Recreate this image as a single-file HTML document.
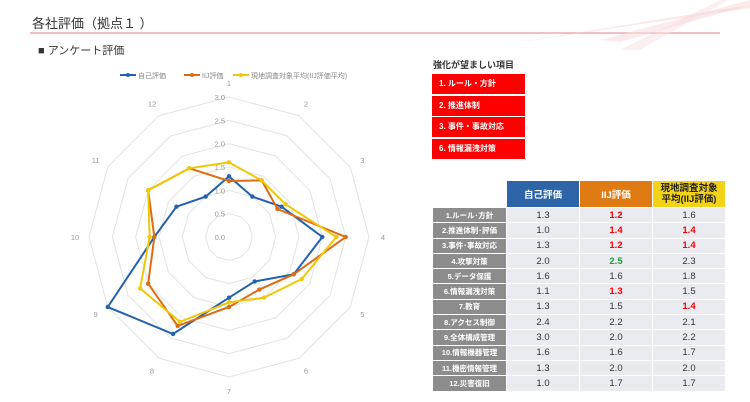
<!DOCTYPE html>
<html><head><meta charset="utf-8"><style>
body{margin:0;width:750px;height:402px;overflow:hidden;background:#fff;font-family:"Liberation Sans","Noto Sans CJK JP",sans-serif;position:relative}
.t{position:absolute;white-space:nowrap}
.rb{position:absolute;left:432px;width:93px;height:20px;background:#f00;color:#fff;font-size:8px;font-weight:bold;line-height:20px;padding-left:7px;box-sizing:border-box}
table{position:absolute;left:432px;top:180px;border-collapse:separate;border-spacing:1px;font-size:9.5px}
td{height:14.3px;text-align:center;padding:0;background:#e9ebf1;color:#333}
td.l{background:#8c8c8c;color:#fff;font-weight:bold;font-size:7.5px;width:73px}
td.v{width:72px}
th{height:26px;font-size:9.5px;font-weight:bold;padding:0}
.r{color:#f00;font-weight:bold}.g{color:#1ea03c;font-weight:bold}
</style></head><body>
<svg width="750" height="402" style="position:absolute;left:0;top:0">
<line x1="30" y1="33" x2="720" y2="33" stroke="#eeaab0" stroke-width="1.5"/>
<polygon points="600,40 750,0 750,5 620,42" fill="#f8dede" opacity=".6"/>
<polygon points="500,45 750,5 750,8" fill="#f5d0d0" opacity=".5"/>
<polygon points="620,50 720,0 728,0 640,50" fill="#f8e0e0" opacity=".5"/>
<g id="radar"></g>
</svg>
<div class="t" style="left:32px;top:13px;font-size:13px;color:#333">各社評価（拠点１ ）</div>
<div class="t" style="left:38px;top:42px;font-size:11px;color:#333">■ アンケート評価</div>
<div class="t" style="left:433px;top:58px;font-size:9px;font-weight:bold;color:#333">強化が望ましい項目</div>
<div class="rb" style="top:74px">1. ルール・方針</div>
<div class="rb" style="top:96px">2. 推進体制</div>
<div class="rb" style="top:117px">3. 事件・事故対応</div>
<div class="rb" style="top:139px">6. 情報漏洩対策</div>
<table>
<tr><th style="background:none"></th><th style="background:#2e65a8;color:#fff">自己評価</th><th style="background:#e07b14;color:#fff">IIJ評価</th><th style="background:#f2d318;color:#222;line-height:11px">現地調査対象<br>平均(IIJ評価)</th></tr>
<tr><td class="l">1.ルール･方針</td><td class="v">1.3</td><td class="v r">1.2</td><td class="v">1.6</td></tr>
<tr><td class="l">2.推進体制･評価</td><td class="v">1.0</td><td class="v r">1.4</td><td class="v r">1.4</td></tr>
<tr><td class="l">3.事件･事故対応</td><td class="v">1.3</td><td class="v r">1.2</td><td class="v r">1.4</td></tr>
<tr><td class="l">4.攻撃対策</td><td class="v">2.0</td><td class="v g">2.5</td><td class="v">2.3</td></tr>
<tr><td class="l">5.データ保護</td><td class="v">1.6</td><td class="v">1.6</td><td class="v">1.8</td></tr>
<tr><td class="l">6.情報漏洩対策</td><td class="v">1.1</td><td class="v r">1.3</td><td class="v">1.5</td></tr>
<tr><td class="l">7.教育</td><td class="v">1.3</td><td class="v">1.5</td><td class="v r">1.4</td></tr>
<tr><td class="l">8.アクセス制御</td><td class="v">2.4</td><td class="v">2.2</td><td class="v">2.1</td></tr>
<tr><td class="l">9.全体構成管理</td><td class="v">3.0</td><td class="v">2.0</td><td class="v">2.2</td></tr>
<tr><td class="l">10.情報機器管理</td><td class="v">1.6</td><td class="v">1.6</td><td class="v">1.7</td></tr>
<tr><td class="l">11.機密情報管理</td><td class="v">1.3</td><td class="v">2.0</td><td class="v">2.0</td></tr>
<tr><td class="l">12.災害復旧</td><td class="v">1.0</td><td class="v">1.7</td><td class="v">1.7</td></tr>
</table>
<script>
var cx=229,cy=237,R=140,g=document.getElementById('radar'),s='';
function P(i,v){var a=i*Math.PI/6;return[cx+Math.sin(a)*v/3*R,cy-Math.cos(a)*v/3*R];}
for(var k=1;k<=6;k++){var pts=[];for(var i=0;i<12;i++)pts.push(P(i,k*0.5).join(','));s+='<polygon points="'+pts.join(' ')+'" fill="none" stroke="#e3e3e3" stroke-width="1"/>';
s+='<text x="'+(cx-4)+'" y="'+(cy-k*0.5/3*R+3)+'" font-size="7.5" fill="#999" text-anchor="end">'+(k*0.5).toFixed(1)+'</text>';}
s+='<text x="'+(cx-4)+'" y="'+(cy+3)+'" font-size="7.5" fill="#999" text-anchor="end">0.0</text>';
for(var i=0;i<12;i++){var p=P(i,3.3);s+='<text x="'+p[0]+'" y="'+(p[1]+3)+'" font-size="7.5" fill="#999" text-anchor="middle">'+(i+1)+'</text>';}
var D=[[1.3,1.0,1.3,2.0,1.6,1.1,1.3,2.4,3.0,1.6,1.3,1.0],[1.2,1.4,1.2,2.5,1.6,1.3,1.5,2.2,2.0,1.6,2.0,1.7],[1.6,1.4,1.4,2.3,1.8,1.5,1.4,2.1,2.2,1.7,2.0,1.7]];
var C=['#2462ad','#e06b10','#f0c80a'];
for(var j=0;j<3;j++){var pts=[];for(var i=0;i<12;i++)pts.push(P(i,D[j][i]));
s+='<polygon points="'+pts.map(function(p){return p.join(',')}).join(' ')+'" fill="none" stroke="'+C[j]+'" stroke-width="2"/>';
pts.forEach(function(p){s+='<circle cx="'+p[0]+'" cy="'+p[1]+'" r="2.2" fill="'+C[j]+'"/>';});}
var L=[[120,'自己評価'],[184,'IIJ評価'],[233,'現地調査対象平均(IIJ評価平均)']];
L.forEach(function(l,j){s+='<line x1="'+l[0]+'" y1="75" x2="'+(l[0]+16)+'" y2="75" stroke="'+C[j]+'" stroke-width="2"/><circle cx="'+(l[0]+8)+'" cy="75" r="2" fill="'+C[j]+'"/><text x="'+(l[0]+18)+'" y="78" font-size="7" fill="#888" font-family="Liberation Sans,Noto Sans CJK JP,sans-serif">'+l[1]+'</text>';});
g.innerHTML=s;
</script>
</body></html>
